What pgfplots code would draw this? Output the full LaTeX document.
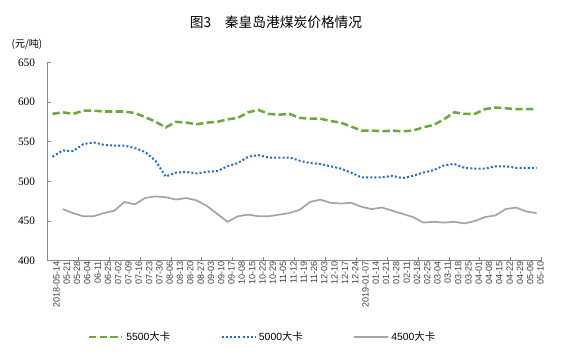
\documentclass[border=0pt]{standalone}
\usepackage{fontspec}
\setmainfont{Liberation Sans}
\newfontfamily\cjk{Noto Sans CJK SC}
\newfontfamily\seriffont{Liberation Serif}
\usepackage{pgfplots}
\pgfplotsset{compat=1.18}
\definecolor{cgreen}{RGB}{106,170,60}
\definecolor{cblue}{RGB}{30,110,205}
\definecolor{cgray}{RGB}{165,165,165}
\definecolor{caxis}{RGB}{137,137,137}
\begin{document}
\begin{tikzpicture}
\useasboundingbox (0,0) rectangle (420.75pt,267.75pt);
\node[font=\cjk\fontsize{10.3}{12}\selectfont] at (207pt,251.25pt) {图3\quad 秦皇岛港煤炭价格情况};
\node[font=\cjk\fontsize{7.5}{9}\selectfont] at (20.25pt,234.75pt) {(元/吨)};
\begin{axis}[
  at={(35.475pt,72.225pt)}, anchor=south west,
  scale only axis, width=370.8pt, height=148.8pt,
  xmin=-0.5, xmax=47.5, ymin=400, ymax=650,
  axis lines*=left,
  axis line style={caxis, line width=0.6pt},
  tick align=inside,
  major tick length=3pt, minor tick length=3pt,
  ytick={400,450,500,550,600,650},
  major y tick style={caxis, line width=0.6pt},
  major x tick style={draw=none},
  minor x tick style={caxis, line width=0.6pt},
  minor xtick={2.5,5.5,8.5,11.5,14.5,17.5,20.5,23.5,26.5,29.5,32.5,35.5,38.5,41.5,44.5,47.5},
  xtick={0,...,47},
  xticklabels={2018-05-14,05-21,05-28,06-04,06-11,06-25,07-02,07-09,07-16,07-23,07-30,08-06,08-13,08-20,08-27,09-03,09-10,09-17,10-08,10-15,10-22,10-29,11-05,11-12,11-19,11-26,12-03,12-10,12-17,12-24,2019-01-07,01-14,01-21,01-28,02-11,02-18,02-25,03-04,03-11,03-18,03-25,04-01,04-08,04-15,04-22,04-29,05-06,05-10},
  xticklabel style={rotate=90, anchor=east, font=\fontsize{6.8}{7.5}\selectfont, inner sep=0pt, yshift=-3pt, text=black!75},
  yticklabel style={font=\seriffont\fontsize{8.5}{10}\selectfont, inner sep=0pt, xshift=-9pt},
  /pgf/number format/assume math mode=true,
  legend columns=3,
  legend style={at={(0.436,-0.385)}, anchor=center, draw=none, fill=none,
    font=\fontsize{7.8}{9}\selectfont, inner sep=0pt,
    /tikz/every even column/.append style={column sep=36pt}},
  legend image code/.code={\draw[#1] (0pt,0pt) -- (25pt,0pt);},
  no markers,
]
\addplot[cgreen, line width=1.9pt, dash pattern=on 5.5pt off 2.5pt] coordinates {
(0,585)(1,587)(2,585)(3,589)(4,589)(5,588)(6,588)(7,588)(8,586)(9,581)
(10,575)(11,568)(12,575)(13,574)(14,572)(15,574)(16,575)(17,578)(18,580)(19,587)
(20,590)(21,585)(22,584)(23,585)(24,580)(25,579)(26,579)(27,576)(28,574)(29,569)
(30,564)(31,564)(32,563)(33,564)(34,563)(35,564)(36,568)(37,571)(38,578)(39,587)
(40,585)(41,585)(42,591)(43,593)(44,592)(45,591)(46,591)(47,591)};
\addplot[cblue, line width=1.5pt, dash pattern=on 1.5pt off 1.6pt] coordinates {
(0,531)(1,539)(2,538)(3,547)(4,549)(5,546)(6,545)(7,545)(8,542)(9,537)
(10,526)(11,506)(12,511)(13,512)(14,510)(15,512)(16,513)(17,519)(18,523)(19,531)
(20,533)(21,530)(22,530)(23,530)(24,526)(25,523)(26,522)(27,519)(28,516)(29,511)
(30,505)(31,505)(32,505)(33,507)(34,504)(35,507)(36,511)(37,514)(38,520)(39,522)
(40,517)(41,516)(42,516)(43,519)(44,519)(45,517)(46,517)(47,517)};
\addplot[cgray, line width=1.3pt] coordinates {
(1,465)(2,460)(3,456)(4,456)(5,460)(6,463)(7,474)(8,471)(9,479)
(10,481)(11,480)(12,477)(13,479)(14,476)(15,469)(16,459)(17,449)(18,456)(19,458)
(20,456)(21,456)(22,458)(23,460)(24,464)(25,474)(26,477)(27,473)(28,472)(29,473)
(30,468)(31,465)(32,467)(33,463)(34,459)(35,455)(36,448)(37,449)(38,448)(39,449)
(40,447)(41,450)(42,455)(43,457)(44,465)(45,467)(46,462)(47,460)};
\legend{5500{\cjk 大卡},5000{\cjk 大卡},4500{\cjk 大卡}}
\end{axis}
\end{tikzpicture}
\end{document}
